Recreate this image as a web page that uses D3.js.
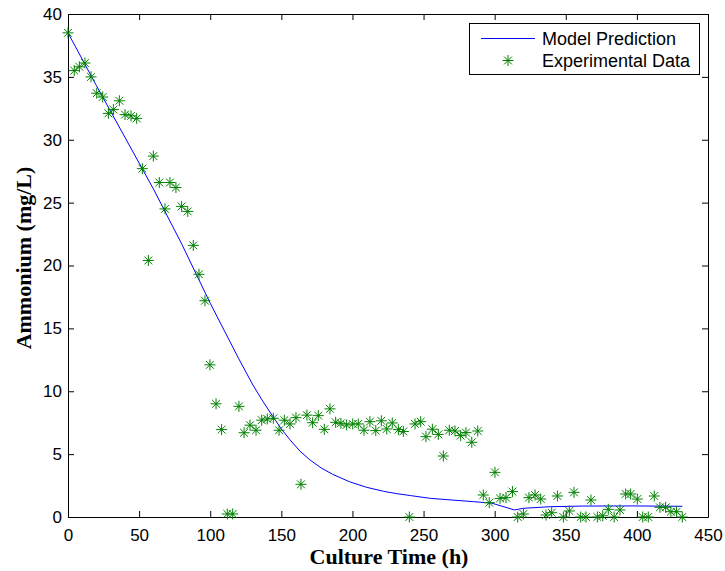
<!DOCTYPE html>
<html>
<head>
<meta charset="utf-8">
<script src="https://cdn.jsdelivr.net/npm/d3@7"></script>
<style>
  html, body { margin: 0; padding: 0; background: #fff; }
  svg { display: block; }
</style>
</head>
<body>
<svg id="chart" width="725" height="571"></svg>
<script>
// Measured ammonium concentration over the culture (h, mg/L)
const sampleTime = [0, 4.4, 8, 11.9, 16.2, 20.2, 24.4, 28.4, 31.9, 36.1,
  40.1, 44.3, 48.3, 52.3, 56.5, 60, 64.2, 68.2, 71.7, 75.9,
  79.9, 84.2, 88.1, 92.1, 96.3, 99.8, 104.1, 108, 112, 115.8,
  120.2, 123.8, 128, 132.2, 136.2, 140.1, 144.4, 148.4, 152.1, 156.1,
  160.3, 163.8, 168, 172, 176, 180.2, 184.2, 188.2, 191.9, 195.9,
  200.2, 204.1, 208.1, 212.3, 216.4, 220.3, 224.1, 228, 232.3, 235.8,
  240, 244, 248, 251.7, 256.2, 260.4, 263.9, 268.1, 272.1, 276.1,
  279.8, 283.9, 288.1, 292, 296.2, 300.2, 303.8, 308, 312.5, 316.2,
  320.2, 324.1, 328.4, 332.4, 336.1, 340.1, 344.1, 348.3, 352.5, 355.8,
  360.5, 364.2, 367.7, 372.2, 376, 379.9, 384, 388.1, 392.1, 395.6,
  400.3, 404.1, 408, 412.2, 416.2, 420.2, 423.9, 427.9, 431.9];
const sampleAmmonium = [38.5, 35.5, 35.8, 36.1, 35.0, 33.7, 33.4, 32.1, 32.4, 33.1,
  32.0, 31.9, 31.7, 27.7, 20.4, 28.7, 26.6, 24.5, 26.6, 26.2,
  24.7, 24.3, 21.6, 19.3, 17.2, 12.1, 9.0, 6.95, 0.24, 0.24,
  8.8, 6.7, 7.3, 6.9, 7.7, 7.8, 7.85, 6.9, 7.7, 7.4,
  7.9, 2.6, 8.1, 7.5, 8.06, 6.97, 8.6, 7.53, 7.45, 7.32,
  7.4, 7.4, 6.9, 7.58, 6.87, 7.65, 7.0, 7.48, 6.95, 6.8,
  0, 7.4, 7.58, 6.39, 6.98, 6.57, 4.85, 6.9, 6.84, 6.47,
  6.71, 5.94, 6.84, 1.75, 1.14, 3.55, 1.48, 1.54, 2.02, 0,
  0.24, 1.54, 1.75, 1.43, 0.16, 0.34, 1.67, 0, 0.48, 1.96,
  0, 0, 1.35, 0, 0.1, 0.61, 0, 0.56, 1.83, 1.83,
  1.43, 0, 0, 1.67, 0.77, 0.77, 0.42, 0.42, 0];

// Model prediction curve (h, mg/L)
const modelTime = [0, 20, 40, 60, 80, 100, 110, 120, 130, 137,
  144, 150, 156, 163, 170, 178, 186, 198, 210, 222,
  231, 241, 255, 270, 285, 298, 314, 320, 339, 362, 398, 432];
const modelAmmonium = [38.5, 34.3, 30.2, 26.1, 21.7, 17.0, 14.8, 12.6, 10.5, 9.2,
  8.0, 7.0, 6.15, 5.25, 4.55, 3.9, 3.4, 2.8, 2.36, 2.04,
  1.86, 1.70, 1.48, 1.35, 1.22, 1.1, 0.56, 0.69, 0.82, 0.87, 0.88, 0.85];

const xTicks = [0, 50, 100, 150, 200, 250, 300, 350, 400, 450];
const yTicks = [0, 5, 10, 15, 20, 25, 30, 35, 40];
const seriesNames = ["Model Prediction", "Experimental Data"];

const svg = d3.select("#chart");
const plotLeft = 68, plotRight = 708, plotTop = 14, plotBottom = 517;
const tickFont = "'Liberation Sans', Arial, Helvetica, sans-serif";
const labelFont = "'Liberation Serif', 'Times New Roman', serif";

const x = d3.scaleLinear().domain([0, 450]).range([plotLeft, plotRight]);
const y = d3.scaleLinear().domain([0, 40]).range([plotBottom, plotTop]);

// Frame with inward ticks on all four sides
function styleAxis(g, showText) {
  g.selectAll("path.domain").attr("stroke", "#000").attr("stroke-width", 1);
  g.selectAll(".tick line").attr("stroke", "#000").attr("stroke-width", 1);
  g.selectAll(".tick text")
    .attr("fill", "#000")
    .style("font-family", tickFont)
    .style("font-size", "17px")
    .style("display", showText ? null : "none");
}

svg.append("g").attr("transform", `translate(0,${plotBottom})`)
  .call(d3.axisBottom(x).tickValues(xTicks).tickSizeInner(-6).tickSizeOuter(0).tickPadding(12))
  .call(g => styleAxis(g, true));
svg.append("g").attr("transform", `translate(0,${plotTop})`)
  .call(d3.axisTop(x).tickValues(xTicks).tickSizeInner(-6).tickSizeOuter(0))
  .call(g => styleAxis(g, false));
svg.append("g").attr("transform", `translate(${plotLeft},0)`)
  .call(d3.axisLeft(y).tickValues(yTicks).tickSizeInner(-6).tickSizeOuter(0).tickPadding(6))
  .call(g => styleAxis(g, true));
svg.append("g").attr("transform", `translate(${plotRight},0)`)
  .call(d3.axisRight(y).tickValues(yTicks).tickSizeInner(-6).tickSizeOuter(0))
  .call(g => styleAxis(g, false));

// Model curve
const modelData = modelTime.map((t, i) => [t, modelAmmonium[i]]);
svg.append("path")
  .datum(modelData)
  .attr("fill", "none")
  .attr("stroke", "#0000ff")
  .attr("stroke-width", 1)
  .attr("d", d3.line().x(d => x(d[0])).y(d => y(d[1])));

// Asterisk marker: a plus and a cross overlaid
function starPath(cx, cy) {
  const a = 5.5, b = 3.9;
  return `M${cx - a},${cy}L${cx + a},${cy}M${cx},${cy - a}L${cx},${cy + a}` +
         `M${cx - b},${cy - b}L${cx + b},${cy + b}M${cx - b},${cy + b}L${cx + b},${cy - b}`;
}

const sampleData = sampleTime.map((t, i) => [t, sampleAmmonium[i]]);
svg.append("g").selectAll("path")
  .data(sampleData)
  .join("path")
  .attr("d", d => starPath(x(d[0]), y(d[1])))
  .attr("fill", "none")
  .attr("stroke", "#008000")
  .attr("stroke-width", 1);

// Legend
const lg = svg.append("g");
lg.append("rect")
  .attr("x", 469.5).attr("y", 23.5).attr("width", 230).attr("height", 51)
  .attr("fill", "#fff").attr("stroke", "#000").attr("stroke-width", 1);
lg.append("line")
  .attr("x1", 481).attr("x2", 535).attr("y1", 38.5).attr("y2", 38.5)
  .attr("stroke", "#0000ff").attr("stroke-width", 1);
lg.append("path")
  .attr("d", starPath(508, 60.5))
  .attr("fill", "none").attr("stroke", "#008000").attr("stroke-width", 1);
lg.selectAll("text")
  .data(seriesNames)
  .join("text")
  .attr("x", 542)
  .attr("y", (d, i) => 38.5 + i * 22.3)
  .attr("dy", "0.35em")
  .style("font-family", tickFont)
  .style("font-size", "18px")
  .attr("fill", "#000")
  .text(d => d);

// Axis titles
svg.append("text")
  .attr("x", (plotLeft + plotRight) / 2 + 1)
  .attr("y", 564)
  .attr("text-anchor", "middle")
  .style("font-family", labelFont)
  .style("font-weight", "bold")
  .style("font-size", "22px")
  .text("Culture Time (h)");

svg.append("text")
  .attr("transform", `translate(31,258) rotate(-90)`)
  .attr("text-anchor", "middle")
  .style("font-family", labelFont)
  .style("font-weight", "bold")
  .style("font-size", "22px")
  .text("Ammonium (mg/L)");
</script>
</body>
</html>
